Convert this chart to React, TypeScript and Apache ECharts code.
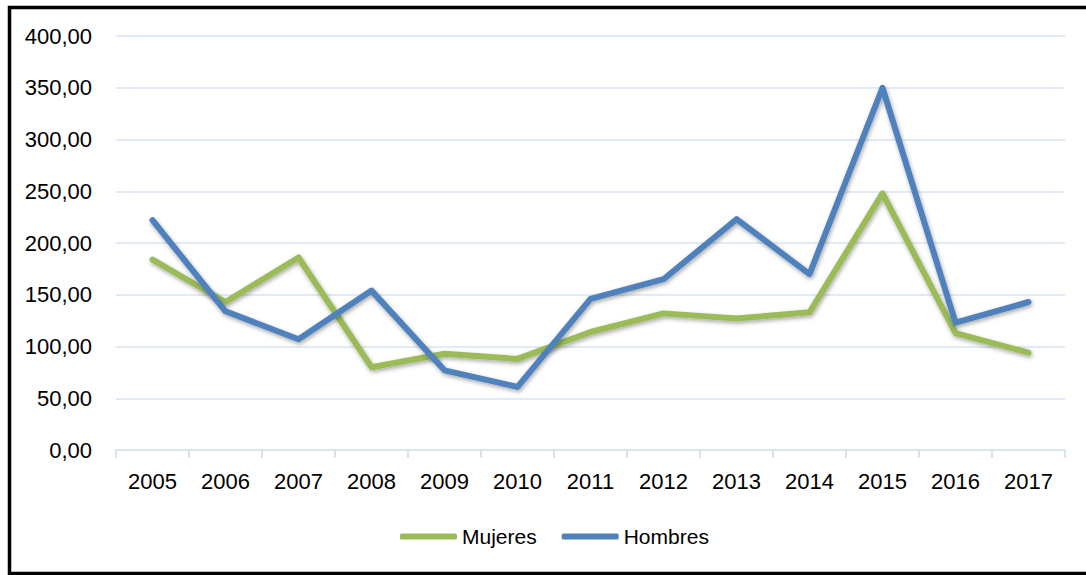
import React, { useEffect, useRef } from "react";
import * as echarts from "echarts";

const years = ["2005","2006","2007","2008","2009","2010","2011","2012","2013","2014","2015","2016","2017"];
const mujeres = [184, 143, 186, 80, 93, 88, 114, 132, 127, 133, 248, 113, 94];
const hombres = [222, 134, 107, 154, 77, 61, 146, 165, 223, 170, 350, 123, 143];
const yTicks = { min: 0, max: 400, interval: 50 };

const FONT = "'Liberation Sans Narrow', 'Arial Narrow', 'Liberation Sans', Arial, sans-serif";
const FS = 22;

export default function App() {
  const ref = useRef<HTMLDivElement>(null);
  useEffect(() => {
    if (!ref.current) return;
    const chart = echarts.init(ref.current, null, { renderer: "svg" });
    const lineShadow = {
      shadowColor: "rgba(0,0,0,0.35)",
      shadowBlur: 4,
      shadowOffsetX: 1,
      shadowOffsetY: 2,
    };
    chart.setOption({
      animation: false,
      backgroundColor: "#fff",
      textStyle: { fontFamily: FONT },
      grid: { left: 116, right: 21, top: 36, bottom: 125 },
      graphic: [
        {
          type: "rect",
          shape: { x: 9.5, y: 7.5, width: 1100, height: 566 },
          style: { fill: "none", stroke: "#000", lineWidth: 3.5 },
          silent: true,
        },
      ],
      legend: {
        left: 395,
        top: 521,
        itemWidth: 57,
        itemHeight: 6,
        itemGap: 25,
        icon: "roundRect",
        textStyle: { fontSize: 21, color: "#000", fontFamily: FONT },
        data: ["Mujeres", "Hombres"],
      },
      xAxis: {
        type: "category",
        data: years,
        boundaryGap: true,
        axisLine: { lineStyle: { color: "#D9E4F2", width: 2 } },
        axisTick: { show: true, length: 8, lineStyle: { color: "#D9E4F2", width: 2 } },
        axisLabel: { fontSize: FS, color: "#000", margin: 20, interval: 0, fontFamily: FONT },
      },
      yAxis: {
        type: "value",
        min: yTicks.min,
        max: yTicks.max,
        interval: yTicks.interval,
        axisLine: { show: false },
        axisTick: { show: false },
        splitLine: { lineStyle: { color: "#D9E4F2", width: 1.5 } },
        axisLabel: {
          fontSize: FS,
          color: "#000",
          margin: 24,
          fontFamily: FONT,
          formatter: (v: number) => v.toFixed(2).replace(".", ","),
        },
      },
      series: [
        {
          name: "Mujeres",
          type: "line",
          data: mujeres,
          symbol: "none",
          color: "#9BBB59",
          lineStyle: { width: 6, color: "#9BBB59", cap: "round", join: "round", ...lineShadow },
        },
        {
          name: "Hombres",
          type: "line",
          data: hombres,
          symbol: "none",
          color: "#4F81BD",
          lineStyle: { width: 6, color: "#4F81BD", cap: "round", join: "round", ...lineShadow },
        },
      ],
    });
    return () => chart.dispose();
  }, []);
  return (
    <div
      ref={ref}
      style={{ position: "absolute", left: 0, top: 0, width: 1086, height: 575, background: "#fff" }}
    />
  );
}
